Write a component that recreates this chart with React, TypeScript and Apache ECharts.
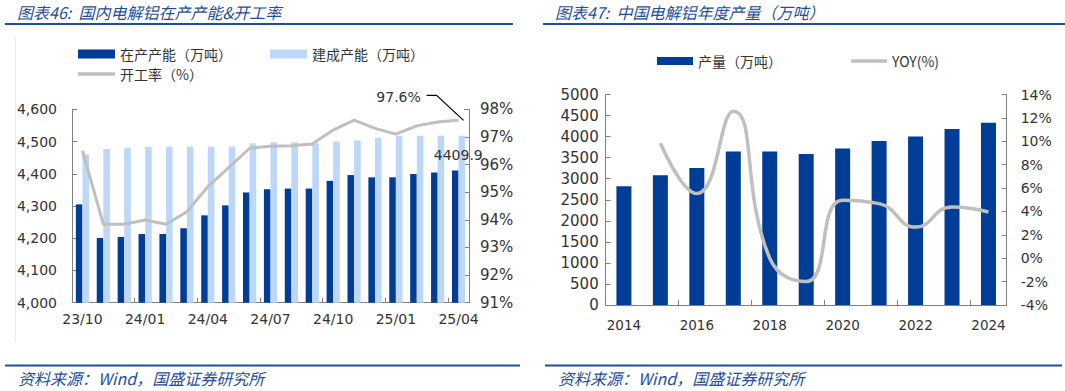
import React, { useEffect, useRef } from "react";
import * as echarts from "echarts";

// Left chart: domestic electrolytic aluminium capacity & utilisation
const months = [
  "23/10", "23/11", "23/12", "24/01", "24/02", "24/03", "24/04", "24/05", "24/06", "24/07",
  "24/08", "24/09", "24/10", "24/11", "24/12", "25/01", "25/02", "25/03", "25/04",
];
const operatingCap = [4305, 4201, 4204, 4213, 4213, 4231, 4271, 4302, 4342, 4352, 4354, 4354, 4378, 4396, 4389, 4389, 4399, 4404, 4409.9];
const builtCap = [4460, 4477, 4481, 4484, 4484, 4484, 4484, 4484, 4495, 4498, 4498, 4495, 4500, 4503, 4512, 4518, 4518, 4518, 4518];
const utilRate = [96.5, 93.84, 93.84, 93.99, 93.84, 94.29, 95.2, 95.89, 96.59, 96.66, 96.68, 96.74, 97.25, 97.61, 97.31, 97.1, 97.4, 97.54, 97.6];

// Right chart: annual output
const years = ["2014", "2015", "2016", "2017", "2018", "2019", "2020", "2021", "2022", "2023", "2024"];
const output = [2820, 3081, 3254, 3649, 3649, 3586, 3720, 3894, 4005, 4179, 4329];
const yoy: (number | null)[] = [null, 9.84, 5.53, 12.57, 0, -2.0, 4.96, 4.67, 2.66, 4.38, 3.95];

const NUM_FONT = "DejaVu Sans, Verdana, sans-serif";
const CJK_FONT = "Noto Sans CJK SC, sans-serif";
const BLUE_TXT = "#1F4E9B";
const DARK = "#003D97";
const LIGHT = "#BDD7F8";
const GRAY = "#BFBFBF";
const AXIS = "#808080";
const LINE_ICON = "path://M0 0H370V36H0Z";

export default function App() {
  const ref = useRef<HTMLDivElement>(null);
  useEffect(() => {
    document.body.style.margin = "0";
    if (!ref.current) return;
    const chart = echarts.init(ref.current, null, { renderer: "svg" });
    const last = months.length - 1;
    const axisLine = { show: true, lineStyle: { color: AXIS, width: 1 } };
    const tick = { show: true, inside: true, length: 5, lineStyle: { color: AXIS } };
    const lab = (size: number, margin: number, extra: any = {}) => ({
      color: "#333",
      fontSize: size,
      fontFamily: NUM_FONT,
      margin,
      ...extra,
    });
    const legendText = { fontFamily: CJK_FONT, fontSize: 14, color: "#333" };
    chart.setOption({
      animation: false,
      textStyle: { fontFamily: NUM_FONT },
      grid: [
        { left: 72, top: 109.3, width: 397, height: 193.4 },
        { left: 605.7, top: 94.5, width: 401, height: 210.5 },
      ],
      legend: [
        {
          data: [{ name: "在产产能（万吨）", icon: "rect" }, { name: "建成产能（万吨）", icon: "rect" }],
          left: 78, top: 47, padding: 0, itemWidth: 37, itemHeight: 9, itemGap: 38,
          textStyle: legendText,
        },
        {
          data: [{ name: "开工率（%）", icon: LINE_ICON }],
          left: 78, top: 67, padding: 0, itemWidth: 37, itemHeight: 9,
          textStyle: legendText,
        },
        {
          data: [{ name: "产量（万吨）", icon: "rect" }, { name: "YOY(%)", icon: LINE_ICON }],
          left: 657, top: 54, padding: 0, itemWidth: 36, itemHeight: 8, itemGap: 69,
          textStyle: legendText,
        },
      ],
      xAxis: [
        {
          type: "category", gridIndex: 0, data: months,
          axisLine, axisTick: { ...tick, interval: 2 },
          axisLabel: lab(14, 9, { interval: 2 }),
        },
        {
          type: "category", gridIndex: 1, data: years,
          axisLine, axisTick: { ...tick, interval: 1 },
          axisLabel: lab(13.5, 13, { interval: 1 }),
        },
      ],
      yAxis: [
        {
          type: "value", gridIndex: 0, min: 4000, max: 4600, interval: 100,
          axisLine, axisTick: tick, splitLine: { show: false },
          axisLabel: lab(14, 15, { formatter: (v: number) => v.toLocaleString("en-US") }),
        },
        {
          type: "value", gridIndex: 0, position: "right", min: 91, max: 98, interval: 1,
          axisLine, axisTick: tick, splitLine: { show: false },
          axisLabel: lab(15, 11, { formatter: "{value}%" }),
        },
        {
          type: "value", gridIndex: 1, min: 0, max: 5000, interval: 500,
          axisLine, axisTick: tick, splitLine: { show: false },
          axisLabel: lab(15, 7, { formatter: (v: number) => String(v) }),
        },
        {
          type: "value", gridIndex: 1, position: "right", min: -4, max: 14, interval: 2,
          axisLine, axisTick: tick, splitLine: { show: false },
          axisLabel: lab(14, 14, { formatter: "{value}%" }),
        },
      ],
      series: [
        {
          name: "在产产能（万吨）", type: "bar", xAxisIndex: 0, yAxisIndex: 0,
          barWidth: 6.6, barGap: "0%", itemStyle: { color: DARK },
          data: operatingCap.map((v, i) =>
            i === last
              ? {
                  value: v,
                  label: {
                    show: true, position: "top", offset: [3, -4], formatter: "{c}",
                    fontSize: 14, color: "#333", fontFamily: NUM_FONT,
                  },
                }
              : v
          ),
        },
        {
          name: "建成产能（万吨）", type: "bar", xAxisIndex: 0, yAxisIndex: 0,
          barWidth: 6.6, barGap: "0%", itemStyle: { color: LIGHT }, data: builtCap,
        },
        {
          name: "开工率（%）", type: "line", xAxisIndex: 0, yAxisIndex: 1,
          symbol: "none", z: 5, lineStyle: { color: GRAY, width: 3 }, itemStyle: { color: GRAY },
          data: utilRate,
        },
        {
          name: "产量（万吨）", type: "bar", xAxisIndex: 1, yAxisIndex: 2,
          barWidth: 15, itemStyle: { color: DARK }, data: output,
        },
        {
          name: "YOY(%)", type: "line", xAxisIndex: 1, yAxisIndex: 3, smooth: 0.5,
          symbol: "none", z: 5, lineStyle: { color: GRAY, width: 3.5 }, itemStyle: { color: GRAY },
          data: yoy,
        },
      ],
    });

    const p = chart.convertToPixel({ seriesIndex: 2 }, [last, utilRate[last]]) as number[];
    const titleStyle = { fontFamily: CJK_FONT, fontSize: 16, fontStyle: "italic", fill: BLUE_TXT };
    chart.setOption({
      graphic: [
        { type: "text", x: 17, y: 12, style: { ...titleStyle, text: "图表46:  国内电解铝在产产能&开工率", textVerticalAlign: "middle" } },
        { type: "text", x: 555, y: 12, style: { ...titleStyle, text: "图表47:  中国电解铝年度产量（万吨）", textVerticalAlign: "middle" } },
        { type: "rect", shape: { x: 5, y: 23, width: 508, height: 2 }, style: { fill: BLUE_TXT } },
        { type: "rect", shape: { x: 543, y: 23, width: 522, height: 2 }, style: { fill: BLUE_TXT } },
        { type: "line", shape: { x1: 15.5, y1: 37, x2: 15.5, y2: 342 }, style: { stroke: "#EBEBEB", lineWidth: 1 } },
        { type: "rect", shape: { x: 5, y: 364.5, width: 515, height: 2 }, style: { fill: BLUE_TXT } },
        { type: "rect", shape: { x: 545, y: 364.5, width: 517, height: 2 }, style: { fill: BLUE_TXT } },
        { type: "text", x: 18, y: 378, style: { ...titleStyle, text: "资料来源：Wind，国盛证券研究所", textVerticalAlign: "middle" } },
        { type: "text", x: 558, y: 378, style: { ...titleStyle, text: "资料来源：Wind，国盛证券研究所", textVerticalAlign: "middle" } },
        {
          type: "polyline",
          shape: { points: [[p[0] - 32, p[1] - 25], [p[0] - 22, p[1] - 25], [p[0] + 5, p[1]]] },
          style: { stroke: "#000", lineWidth: 1.2, fill: null },
          z: 10,
        },
        {
          type: "text", x: p[0] - 60, y: p[1] - 23, z: 10,
          style: {
            text: `${utilRate[last]}%`, fontFamily: NUM_FONT, fontSize: 14, fill: "#333",
            textAlign: "center", textVerticalAlign: "middle",
          },
        },
      ],
    });
    return () => chart.dispose();
  }, []);
  return <div ref={ref} style={{ width: 1065, height: 391 }} />;
}
